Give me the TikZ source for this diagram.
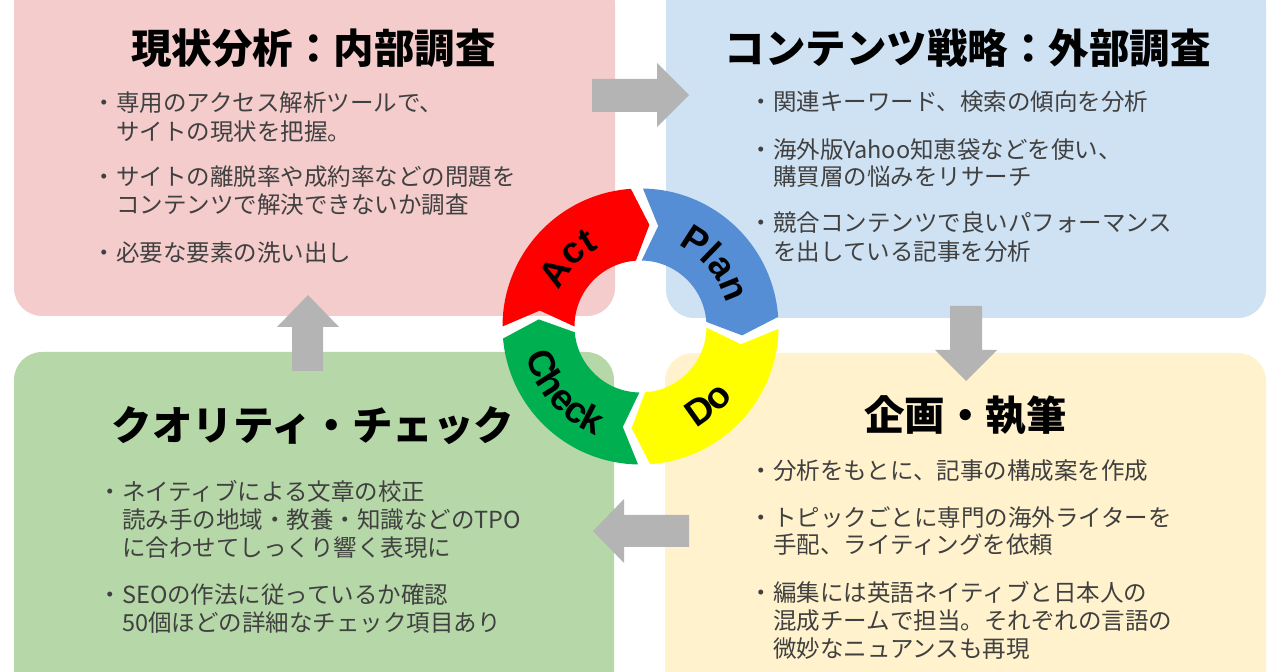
\documentclass[tikz,border=0pt]{standalone}
\usepackage{fontspec}
\newfontfamily\jp{Noto Sans CJK JP}
\newfontfamily\ringfont{Liberation Sans}
\usetikzlibrary{decorations.text}
\definecolor{pinkbg}{HTML}{F4CCCC}
\definecolor{bluebg}{HTML}{CFE2F3}
\definecolor{greenbg}{HTML}{B6D7A8}
\definecolor{yellowbg}{HTML}{FFF2CC}
\definecolor{segred}{HTML}{FF0000}
\definecolor{segblue}{HTML}{558ED5}
\definecolor{segyellow}{HTML}{FFFF00}
\definecolor{seggreen}{HTML}{00B050}
\definecolor{arrowgray}{HTML}{B4B4B4}
\definecolor{bodygray}{HTML}{404040}
\newcommand\ringtxt{\ringfont\bfseries\fontsize{37}{37}\selectfont}
\newcommand\ringseg[3]{\fill[#1] (#2:138) arc[start angle=#2, end angle=#3, radius=138] -- ({#3-9}:102) -- (#3:66) arc[start angle=#3, end angle=#2, radius=66] -- ({#2-9}:102) -- cycle;}
\begin{document}
\begin{tikzpicture}[x=1pt,y=1pt,
  panel/.style={rounded corners=28pt, inner sep=0pt, draw=none},
  ttl/.style={inner sep=0pt, text height=35.6pt, text depth=4.9pt, font=\jp\bfseries\fontsize{40.5}{40.5}\selectfont, text=black},
  body/.style={anchor=west, inner sep=0pt, text height=20.7pt, text depth=2.8pt, font=\jp\fontsize{23.5}{23.5}\selectfont, text=bodygray},
  blockarrow/.style={fill=arrowgray, draw=none},
  ringlabel/.style={decorate, decoration={text along path, text={#1}, text align=center}}]
\useasboundingbox (0,0) rectangle (1280,672);
\clip (0,0) rectangle (1280,672);
% panels
\node[panel, fill=pinkbg, minimum width=601pt, minimum height=341pt] (pinkbox) at (314.5,526.5) {};
\node[panel, fill=bluebg, minimum width=600pt, minimum height=343pt] (bluebox) at (966,525.5) {};
\node[panel, fill=greenbg, minimum width=600pt, minimum height=348pt] (greenbox) at (314,146) {};
\node[panel, fill=yellowbg, minimum width=601pt, minimum height=347pt] (yellowbox) at (965.5,145.5) {};
% block arrows
\fill[blockarrow] (592,593) -- (657,593) -- (657,609) -- (689,577) -- (657,545) -- (657,560) -- (592,560) -- cycle;
\fill[blockarrow] (950,366) -- (982,366) -- (982,322) -- (997,322) -- (966,291) -- (935,322) -- (950,322) -- cycle;
\fill[blockarrow] (689,157) -- (624,157) -- (624,173) -- (593,141) -- (624,109) -- (624,125) -- (689,125) -- cycle;
\fill[blockarrow] (292,301) -- (292,345) -- (277,345) -- (308,377) -- (339,345) -- (323,345) -- (323,301) -- cycle;
% titles
\node[ttl] (t1) at (313.5,624) {現状分析：内部調査};
\node[ttl] (t2) at (967.5,624) {コンテンツ戦略：外部調査};
\node[ttl] (t3) at (313,247) {クオリティ・チェック};
\node[ttl] (t4) at (965.5,257) {企画・執筆};
% pink body
\node[body] (p1) at (92.5,569) {・専用のアクセス解析ツールで、};
\node[body] (p2) at (116,540) {サイトの現状を把握。};
\node[body] (p3) at (92.5,495) {・サイトの離脱率や成約率などの問題を};
\node[body] (p4) at (116,467) {コンテンツで解決できないか調査};
\node[body] (p5) at (92.5,419) {・必要な要素の洗い出し};
% blue body
\node[body] (b1) at (749.5,570) {・関連キーワード、検索の傾向を分析};
\node[body] (b2) at (749.5,522) {・海外版Yahoo知恵袋などを使い、};
\node[body] (b3) at (773,495) {購買層の悩みをリサーチ};
\node[body] (b4) at (749.5,449) {・競合コンテンツで良いパフォーマンス};
\node[body] (b5) at (773,420) {を出している記事を分析};
% green body
\node[body] (g1) at (98.5,180) {・ネイティブによる文章の校正};
\node[body] (g2) at (122,152) {読み手の地域・教養・知識などのTPO};
\node[body] (g3) at (122,124) {に合わせてしっくり響く表現に};
\node[body] (g4) at (98.5,77) {・SEOの作法に従っているか確認};
\node[body] (g5) at (122,49) {50個ほどの詳細なチェック項目あり};
% yellow body
\node[body] (y1) at (749.5,201) {・分析をもとに、記事の構成案を作成};
\node[body] (y2) at (749.5,154.5) {・トピックごとに専門の海外ライターを};
\node[body] (y3) at (773,127) {手配、ライティングを依頼};
\node[body] (y4) at (749.5,79) {・編集には英語ネイティブと日本人の};
\node[body] (y5) at (773,51) {混成チームで担当。それぞれの言語の};
\node[body] (y6) at (773,23.5) {微妙なニュアンスも再現};
% PDCA ring
\begin{scope}[shift={(640.5,345.5)}]
\ringseg{segblue}{89}{4}
\ringseg{segyellow}{-1}{-86}
\ringseg{seggreen}{-91}{-175}
\ringseg{segred}{180}{94}
\ringtxt
\path[ringlabel={Act}] (177:89) arc[start angle=177, end angle=97, radius=89];
\path[ringlabel={Plan}] (82:89) arc[start angle=82, end angle=-2, radius=89];
\path[ringlabel={Do}] (-84:116) arc[start angle=-84, end angle=-14, radius=116];
\path[ringlabel={Check}] (-176:118) arc[start angle=-176, end angle=-102, radius=118];
\end{scope}
\end{tikzpicture}
\end{document}
